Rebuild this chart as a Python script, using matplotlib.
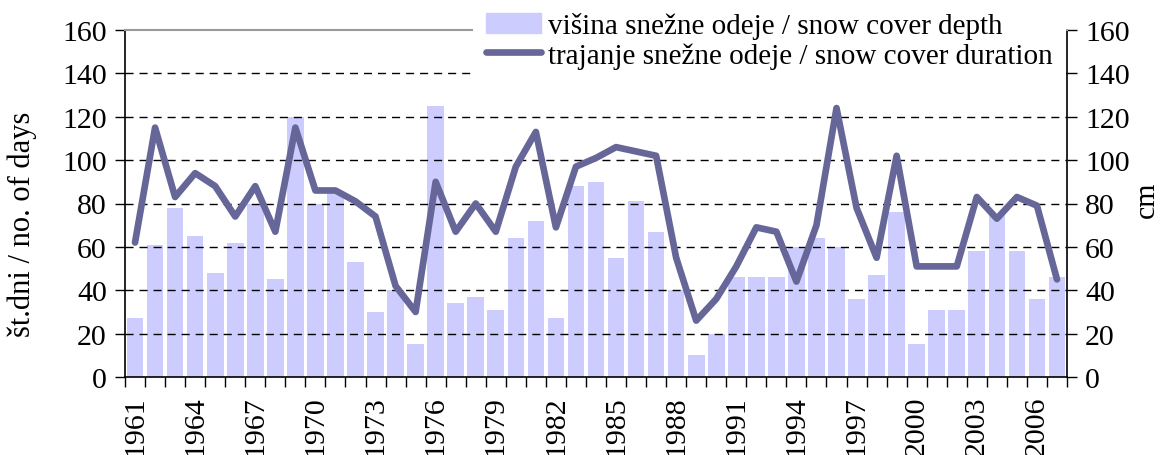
import matplotlib
matplotlib.use("Agg")
import matplotlib.pyplot as plt
import matplotlib.patches as mpatches
import matplotlib.lines as mlines
import numpy as np

years = list(range(1961, 2008))

# snow cover depth (cm) - bars, right axis
depth = [27, 61, 78, 65, 48, 62, 80, 45, 120, 80,
         85, 53, 30, 40, 15, 125, 34, 37, 31, 64,
         72, 27, 88, 90, 55, 81, 67, 40, 10, 20,
         46, 46, 46, 60, 64, 60, 36, 47, 76, 15,
         31, 31, 58, 75, 58, 36, 46]

# snow cover duration (days) - line, left axis
duration = [62, 115, 83, 94, 88, 74, 88, 67, 115, 86,
            86, 81, 74, 42, 30, 90, 67, 80, 67, 97,
            113, 69, 97, 101, 106, 104, 102, 55, 26, 36,
            51, 69, 67, 44, 70, 124, 78, 55, 102, 51,
            51, 51, 83, 73, 83, 79, 45]

label_depth = "višina snežne odeje / snow cover depth"
label_duration = "trajanje snežne odeje / snow cover duration"

bar_color = "#ccccff"
line_color = "#666699"

plt.rcParams["font.family"] = ["Liberation Serif", "DejaVu Serif"]
fs = 21.5

fig = plt.figure(figsize=(11.65, 4.56), dpi=100)
ax = fig.add_axes([125 / 1165, 78 / 456, 942 / 1165, 347 / 456])
ax2 = ax.twinx()

x = np.arange(len(years))

# bars on the cm axis, drawn underneath
ax2.bar(x, depth, width=0.83, color=bar_color, zorder=1)
ax2.set_ylim(0, 160)
ax2.set_yticks(range(0, 161, 20))
ax2.tick_params(axis="y", direction="out", length=7, width=1, labelsize=fs, pad=6)
ax2.set_ylabel("cm", fontsize=fs)
ax2.yaxis.set_label_coords(1.071, 0.513)
for s in ("top", "left", "bottom"):
    ax2.spines[s].set_visible(False)
ax2.spines["right"].set_linewidth(1.2)

# main axes above the bars: grid + duration line
ax.set_zorder(ax2.get_zorder() + 1)
ax.patch.set_visible(False)
ax.set_xlim(-0.5, len(years) - 0.5)
ax.set_ylim(0, 160)
ax.set_yticks(range(0, 161, 20))
for v in range(20, 160, 20):
    ax.axhline(v, color="black", lw=1.0, ls=(0, (5.8, 4.3)), zorder=1)
ax.plot(x, duration, color=line_color, lw=4.8, solid_capstyle="round",
        solid_joinstyle="round", zorder=3)

ax.set_xticks(x[::3])
ax.set_xticklabels([str(y) for y in years[::3]], rotation=90, fontsize=fs)
ax.set_xticks(np.arange(-0.5, len(years), 1), minor=True)
ax.tick_params(axis="x", which="major", length=0, pad=13)
ax.tick_params(axis="x", which="minor", direction="out", length=7, width=1)
ax.tick_params(axis="y", direction="out", length=7, width=1, labelsize=fs, pad=6)
ax.set_ylabel("št.dni / no. of days", fontsize=22)
ax.yaxis.set_label_coords(-0.093, 0.444)

ax.spines["top"].set_color("#999999")
ax.spines["top"].set_linewidth(1.5)
ax.spines["right"].set_visible(False)
ax.spines["left"].set_linewidth(1.2)
ax.spines["bottom"].set_linewidth(1.2)

h_bar = mpatches.Patch(color=bar_color, label=label_depth)
h_line = mlines.Line2D([], [], color=line_color, lw=4.8, solid_capstyle="round",
                       label=label_duration)
leg = ax.legend(handles=[h_bar, h_line], loc="upper right",
                bbox_to_anchor=(1066 / 1165, 1.0), bbox_transform=fig.transFigure,
                prop={"size": 21}, frameon=True, fancybox=False, borderaxespad=0,
                handlelength=1.9, handleheight=0.72, handletextpad=0.24,
                labelspacing=0.1, borderpad=0.45)
leg.get_frame().set_edgecolor("none")
leg.get_frame().set_facecolor("white")
leg.get_frame().set_alpha(1.0)
leg.set_zorder(10)

fig.savefig("out.png", dpi=100)
